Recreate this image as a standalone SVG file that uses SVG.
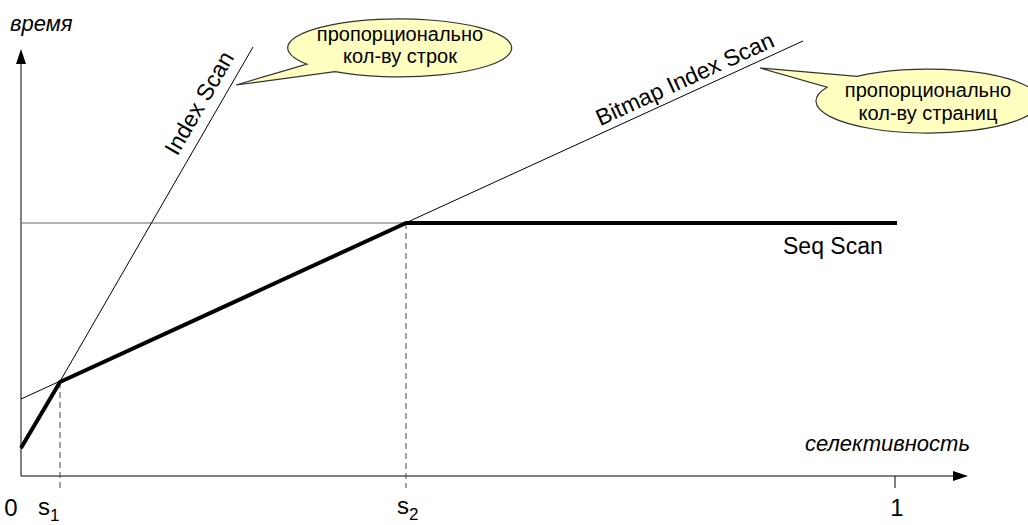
<svg xmlns="http://www.w3.org/2000/svg" width="1028" height="525" viewBox="0 0 1028 525">
<style>
text{font-family:"Liberation Sans",Arial,sans-serif;fill:#000}
.lbl{font-size:23px}
.ital{font-size:22px;font-style:italic}
.num{font-size:24px}
.sub{font-size:17px}
.thin{stroke:#000;stroke-width:1;fill:none}
.dash{stroke:#444;stroke-width:1;stroke-dasharray:6,4;fill:none}
.callout{fill:#ffffc0;stroke:#333;stroke-width:1.2}
.ctext{font-size:20px;text-anchor:middle}
</style>
<rect width="1028" height="525" fill="#fff"/>
<g id="axes">
<line class="thin" x1="21" y1="476" x2="21" y2="62"/>
<polygon points="21,49 16,64 26,64" fill="#000"/>
<line class="thin" x1="21" y1="476" x2="955" y2="476"/>
<polygon points="968,476 953,471 953,481" fill="#000"/>
<line class="thin" x1="895" y1="476" x2="895" y2="488"/>
<text class="ital" x="10" y="31">время</text>
<text class="ital" x="970" y="451" text-anchor="end">селективность</text>
<text class="num" x="11" y="516" text-anchor="middle">0</text>
<text class="num" x="897" y="516" text-anchor="middle">1</text>
<text class="num" x="38" y="515">s<tspan class="sub" dy="6">1</tspan></text>
<text class="num" x="397" y="514">s<tspan class="sub" dy="6">2</tspan></text>
</g>
<g id="connectors">
<line class="dash" x1="60" y1="382" x2="60" y2="488"/>
<line class="dash" x1="406" y1="223" x2="406" y2="488"/>
<line x1="21" y1="223" x2="406" y2="223" stroke="#666" stroke-width="1.2"/>
<line class="thin" x1="21" y1="449" x2="253" y2="47"/>
<line class="thin" x1="21" y1="399" x2="803" y2="41"/>
<polyline points="21,448 60,382 406,223 897,223" fill="none" stroke="#000" stroke-width="4" stroke-linejoin="round"/>
</g>
<g id="index-scan">
<text class="lbl" transform="translate(206,107) rotate(-60)" text-anchor="middle">Index Scan</text>
</g>
<g id="bitmap-index-scan">
<text class="lbl" transform="translate(688,86) rotate(-24.6)" text-anchor="middle">Bitmap Index Scan</text>
</g>
<g id="seq-scan">
<text class="lbl" x="783" y="254">Seq Scan</text>
</g>
<g id="callout-rows">
<path class="callout" d="M335,71.6 A112,29 0 1 0 307,64.2 L236,85 Z"/>
<text class="ctext" x="400" y="41">пропорционально</text>
<text class="ctext" x="400" y="63">кол-ву строк</text>
</g>
<g id="callout-pages">
<path class="callout" d="M827,87.2 A112,32 0 1 0 857,76.3 L760,68 Z"/>
<text class="ctext" x="928" y="97">пропорционально</text>
<text class="ctext" x="928" y="120">кол-ву страниц</text>
</g>
</svg>
